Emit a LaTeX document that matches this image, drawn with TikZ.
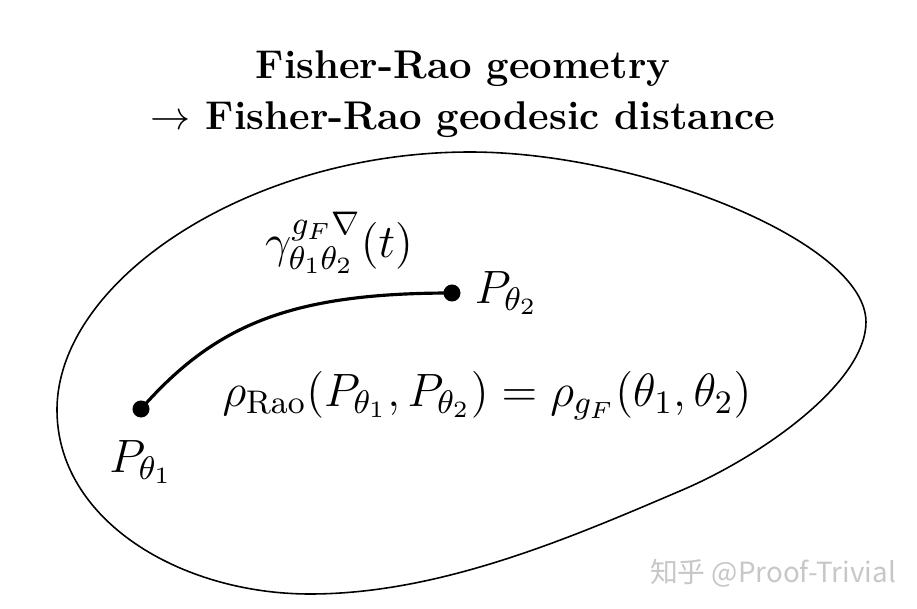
\RequirePackage{fix-cm}
\documentclass[tikz,border=0pt]{standalone}
\usepackage{fontspec}
\newfontfamily\cjk{Noto Sans CJK SC}
\usetikzlibrary{positioning}

\tikzset{
  dot/.style={circle, fill=black, inner sep=0pt, minimum size=0.17cm},
  lbl/.style={inner sep=0pt, font=\fontsize{13.3}{16}\selectfont},
  ttl/.style={inner sep=0pt, align=center, font=\fontsize{11.4}{14.3}\selectfont\bfseries}
}

\begin{document}
\begin{tikzpicture}[x=0.01cm, y=-0.01cm]
\useasboundingbox (0,0) rectangle (917,609);

\node[ttl] (title) at (463,94) {Fisher-Rao geometry\\$\rightarrow$ Fisher-Rao geodesic distance};

% the manifold
\draw[line width=0.45pt] (57,410) .. controls (57,280) and (250,152) .. (470,152)
  .. controls (640,152) and (866,242) .. (866,322)
  .. controls (866,382) and (763,456) .. (680,491)
  .. controls (570,538) and (440,594) .. (310,594)
  .. controls (180,594) and (57,520) .. (57,410) -- cycle;

\node[dot] (p1) at (141,409) {};
\node[dot] (p2) at (452,293) {};
\draw[line width=0.9pt] (p1.center) .. controls +(74,-84) and +(-162,0) .. (p2.center);

\node[lbl, below=0.22cm of p1] (p1lbl) {$P_{\theta_1}$};
\node[lbl, right=0.13cm of p2] (p2lbl) {$P_{\theta_2}$};
\node[lbl] (gamma) at (339,243) {$\gamma^{g_F\nabla}_{\theta_1\theta_2}(t)$};
\node[lbl] (rho) at (487,396) {$\rho_{\mathrm{Rao}}(P_{\theta_1},P_{\theta_2})=\rho_{g_F}(\theta_1,\theta_2)$};

\node[inner sep=0pt, text=black!22, font=\cjk\fontsize{7.9}{9}\selectfont] (mark) at (773,573) {知乎 @Proof-Trivial};
\end{tikzpicture}
\end{document}
